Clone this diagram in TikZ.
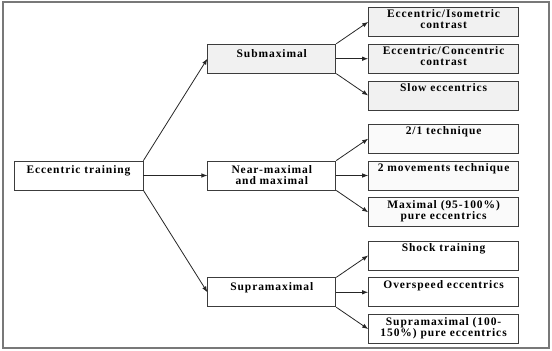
\documentclass[tikz,border=0pt]{standalone}
\usepackage{fontspec}
\usepackage{xcolor}
\usepackage{tikz}
\usetikzlibrary{arrows.meta,positioning}
\newfontfamily\boxfont[LetterSpace=8]{Liberation Serif}
\definecolor{framegray}{RGB}{120,120,120}
\definecolor{boxline}{RGB}{60,60,60}

\begin{document}
\begin{tikzpicture}[
    x=1pt, y=1pt,
    node distance=7pt,
    box/.style={rectangle, draw=boxline, line width=0.8pt, inner xsep=2pt, inner ysep=2.5pt, text width=124pt, align=center, font=\boxfont\bfseries\fontsize{11.5pt}{11pt}\selectfont, text height=10.5pt, text depth=13.5pt},
    leaf/.style={box, text width=146pt, text height=8pt, text depth=16pt},
    arrow/.style={-{Latex[length=6pt,width=4.5pt]}, thick, draw=black!85},
]

% === FRAME ===
\useasboundingbox (0,0) rectangle (552,351);
\draw[framegray, line width=1.4pt] (3,3) rectangle (549,349);

% === ROOT ===
\node[box, text width=125pt] (train) at (78.5,175.5) {Eccentric training};

% === LOADS ===
\node[box, right=64pt of train] (nearmax) {Near-maximal\\and maximal};
\node[box, fill=gray!11, above=87pt of nearmax] (submax) {Submaximal};
\node[box, below=87pt of nearmax] (supramax) {Supramaximal};

% === SUBMAXIMAL METHODS ===
\node[leaf, fill=gray!11, right=32pt of submax] (conc) {Eccentric/Concentric\\contrast};
\node[leaf, fill=gray!11, above=of conc] (iso) {Eccentric/Isometric\\contrast};
\node[leaf, fill=gray!11, below=of conc] (slow) {Slow eccentrics};

% === NEAR-MAXIMAL METHODS ===
\node[leaf, fill=gray!4, right=32pt of nearmax] (twomov) {2 movements technique};
\node[leaf, fill=gray!4, above=of twomov] (tech21) {2/1 technique};
\node[leaf, fill=gray!4, below=of twomov] (maxpure) {Maximal (95-100\%)\\pure eccentrics};

% === SUPRAMAXIMAL METHODS ===
\node[leaf, right=32pt of supramax] (overspeed) {Overspeed eccentrics};
\node[leaf, above=of overspeed] (shock) {Shock training};
\node[leaf, below=of overspeed] (suprapure) {Supramaximal (100-\\150\%) pure eccentrics};

% === ARROWS ===
\draw[arrow] (train.north east) -- (submax.west);
\draw[arrow] (train.east) -- (nearmax.west);
\draw[arrow] (train.south east) -- (supramax.west);

\draw[arrow] (submax.north east) -- (iso.west);
\draw[arrow] (submax.east) -- (conc.west);
\draw[arrow] (submax.south east) -- (slow.west);

\draw[arrow] (nearmax.north east) -- (tech21.west);
\draw[arrow] (nearmax.east) -- (twomov.west);
\draw[arrow] (nearmax.south east) -- (maxpure.west);

\draw[arrow] (supramax.north east) -- (shock.west);
\draw[arrow] (supramax.east) -- (overspeed.west);
\draw[arrow] (supramax.south east) -- (suprapure.west);

\end{tikzpicture}
\end{document}
